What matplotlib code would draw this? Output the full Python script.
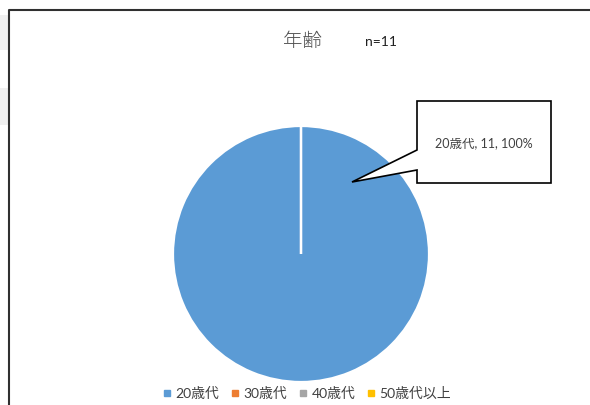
import matplotlib.pyplot as plt
from matplotlib.patches import Polygon, Rectangle
from matplotlib.lines import Line2D

plt.rcParams['font.family'] = ['Lato', 'Noto Sans CJK JP', 'DejaVu Sans']

# age groups of respondents
categories = ['20歳代', '30歳代', '40歳代', '50歳代以上']
counts = [11, 0, 0, 0]
colors = ['#5B9BD5', '#ED7D31', '#A5A5A5', '#FFC000']
total = sum(counts)

fig = plt.figure(figsize=(5.9, 4.05), dpi=100)
ax = fig.add_axes([0, 0, 1, 1])

H = 405  # pixel height, used to flip y for layout

# pie
ax.pie(counts, colors=colors, startangle=90, counterclock=False,
       center=(301, H - 254), radius=128,
       wedgeprops=dict(edgecolor='white', linewidth=1.6))
ax.set_xlim(0, 590)
ax.set_ylim(0, H)
ax.set_aspect('equal')
ax.axis('off')

# chart frame
ax.plot([9, 9, 600], [-5, H - 10, H - 10], color='#303030', lw=1.5,
        solid_capstyle='butt', clip_on=False)
for y0, y1 in [(15, 50), (88, 125)]:
    ax.add_patch(Rectangle((0, H - y1), 8, y1 - y0, color='#f0f0f0', lw=0))

# title
ax.text(303, H - 42, '年齢', ha='center', va='center', fontsize=14,
        color='#505050', fontweight='light')
ax.text(381, H - 42, f'n={total}', ha='center', va='center', fontsize=10,
        color='#202020')

# callout for the main slice
pct = counts[0] / total * 100
callout = Polygon([(417, H - 101), (551, H - 101), (551, H - 183),
                   (417, H - 183), (417, H - 170), (352, H - 182),
                   (417, H - 150)],
                  closed=True, facecolor='white', edgecolor='black', lw=1.2)
ax.add_patch(callout)
ax.text(484, H - 143, f'{categories[0]}, {counts[0]}, {pct:.0f}%',
        ha='center', va='center', fontsize=9, color='#404040')

# legend
handles = [Line2D([], [], marker='s', ls='', markersize=4.5, color=c)
           for c in colors]
fig.legend(handles, categories, loc='center', bbox_to_anchor=(307 / 590, 1 - 393 / H),
           ncol=4, frameon=False, fontsize=10, handlelength=0.6,
           handletextpad=0.3, columnspacing=0.85, labelcolor='#404040')

fig.savefig('out.png', dpi=100)
